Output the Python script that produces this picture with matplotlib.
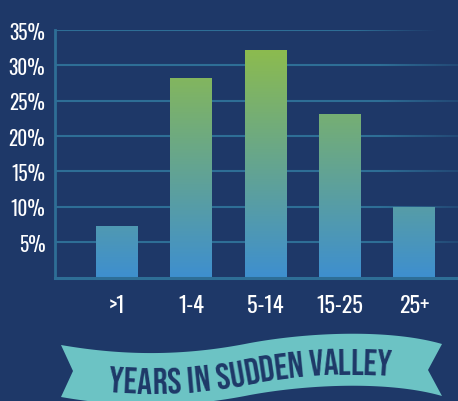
import numpy as np
import matplotlib
matplotlib.use("Agg")
import matplotlib.pyplot as plt
from matplotlib import font_manager
from matplotlib.colors import LinearSegmentedColormap, to_rgba
from matplotlib.collections import LineCollection
from matplotlib.patches import Polygon, Rectangle
from matplotlib.textpath import text_to_path
from matplotlib.font_manager import FontProperties

# data
categories = [">1", "1-4", "5-14", "15-25", "25+"]
shares = [7.3, 28.2, 32.2, 23.1, 10.0]
yticks = [5, 10, 15, 20, 25, 30, 35]
ytick_labels = ["5%", "10%", "15%", "20%", "25%", "30%", "35%"]
title = "YEARS IN SUDDEN VALLEY"

BG = "#1e3868"
GRID = "#2e6e96"
BLUE = "#3e8fcf"
GREEN = "#8cbb4f"
RIBBON = "#6cc3c4"
NAVY = "#1e3868"

names = {f.name for f in font_manager.fontManager.ttflist}


def pick(cands):
    for c in cands:
        if c in names:
            return c
    return "DejaVu Sans"


label_font = pick(["Oswald", "Barlow Condensed", "Roboto Condensed", "Asap Condensed", "Roboto"])
title_font = pick(["Bebas Neue", "Oswald", "Barlow Condensed", "Roboto"])
plt.rcParams["font.family"] = [label_font, "DejaVu Sans"]

W, H = 458, 402
fig = plt.figure(figsize=(W / 100, H / 100), dpi=100, facecolor=BG)
ax = fig.add_axes([55 / W, (H - 278.5) / H, (W - 55) / W, (278.5 - 31) / H])
ax.set_facecolor(BG)

x = np.arange(len(categories))
width = 0.565
xmin, xmax = -0.834, 4.59

# gridlines, fading out to the right
xs = np.linspace(xmin, xmax, 200)
for yv in yticks:
    if yv == 35:
        a = np.clip((4.3 - xs) / (4.3 - 3.2), 0, 1)
    else:
        a = np.clip((5.0 - xs) / (5.0 - 3.55), 0, 1)
    segs = [[(xs[i], yv), (xs[i + 1], yv)] for i in range(len(xs) - 1)]
    cols = [to_rgba(GRID, a[i]) for i in range(len(xs) - 1)]
    ax.add_collection(LineCollection(segs, colors=cols, linewidths=1.5, zorder=1))

# bars with blue->green gradient
cmap = LinearSegmentedColormap.from_list("bg", [BLUE, GREEN])
vmax = max(shares)
for xi, v in zip(x, shares):
    grad = np.linspace(0, v / vmax, 256).reshape(-1, 1)
    im = ax.imshow(grad, cmap=cmap, vmin=0, vmax=1, origin="lower", aspect="auto",
                   extent=(xi - width / 2, xi + width / 2, 0, v), zorder=2)
    rect = Rectangle((xi - width / 2, 0), width, v, transform=ax.transData,
                     facecolor="none", edgecolor="none")
    ax.add_patch(rect)
    im.set_clip_path(rect)

ax.set_xlim(xmin, xmax)
ax.set_ylim(0, 35)

for s in ["top", "right"]:
    ax.spines[s].set_visible(False)
ax.spines["left"].set_color(GRID)
ax.spines["left"].set_linewidth(2.0)
ax.spines["bottom"].set_color(GRID)
ax.spines["bottom"].set_linewidth(2.2)
ax.spines["left"].set_zorder(3)
ax.spines["bottom"].set_zorder(3)

ax.set_xticks(x)
ax.set_xticklabels(categories, color="white", fontsize=16, fontweight="normal")
ax.set_yticks(yticks)
ax.set_yticklabels(ytick_labels, color="white", fontsize=14, fontweight="semibold")
ax.tick_params(axis="both", length=0)
ax.tick_params(axis="x", pad=12)
ax.tick_params(axis="y", pad=7)

# ribbon banner, drawn in pixel coords
bax = fig.add_axes([0, 0, 1, 1], zorder=-1)
bax.set_xlim(0, W)
bax.set_ylim(H, 0)
bax.axis("off")


def bez(p0, p1, p2, p3, n=60):
    t = np.linspace(0, 1, n)[:, None]
    p0, p1, p2, p3 = map(np.array, (p0, p1, p2, p3))
    return (1 - t) ** 3 * p0 + 3 * (1 - t) ** 2 * t * p1 + 3 * (1 - t) * t ** 2 * p2 + t ** 3 * p3


top = np.vstack([bez((61, 346), (130, 358), (190, 356), (250, 344)),
                 bez((250, 344), (310, 333), (390, 330), (442, 345))[1:]])
thick = 52
bottom = top + np.array([0, thick])
poly = np.vstack([top, [(428, 371)], bottom[::-1], [(73, 372)]])
bax.add_patch(Polygon(poly, closed=True, facecolor=RIBBON, edgecolor="none"))

# title letters following the ribbon; line is ~284 px long
center = top + np.array([0, thick / 2 + 1])
d = np.r_[0, np.cumsum(np.hypot(np.diff(center[:, 0]), np.diff(center[:, 1])))]
px = 100 / 72
p0 = FontProperties(family=[title_font, "DejaVu Sans"], weight="bold", size=22)
w0 = text_to_path.get_text_width_height_descent(title, p0, ismath=False)[0] * px
tsize = min(22 * 284 / w0, 28)
prop = FontProperties(family=[title_font, "DejaVu Sans"], weight="bold", size=tsize)
adv = [text_to_path.get_text_width_height_descent(title[:i], prop, ismath=False)[0] * px
       if i > 0 else 0.0 for i in range(len(title) + 1)]
scale = 284 / adv[-1]
adv = [a * scale for a in adv]
total = adv[-1]
start = np.interp(250, center[:, 0], d) - total / 2
for i, ch in enumerate(title):
    if ch == " ":
        continue
    w = adv[i + 1] - adv[i]
    s = start + adv[i] + w / 2
    cx = np.interp(s, d, center[:, 0])
    cy = np.interp(s, d, center[:, 1])
    cx2 = np.interp(s + 2, d, center[:, 0])
    cy2 = np.interp(s + 2, d, center[:, 1])
    ang = -np.degrees(np.arctan2(cy2 - cy, cx2 - cx))
    bax.text(cx, cy, ch, fontproperties=prop, color=NAVY, ha="center", va="center",
             rotation=ang, rotation_mode="anchor")

fig.savefig("out.png", dpi=100, facecolor=BG)
